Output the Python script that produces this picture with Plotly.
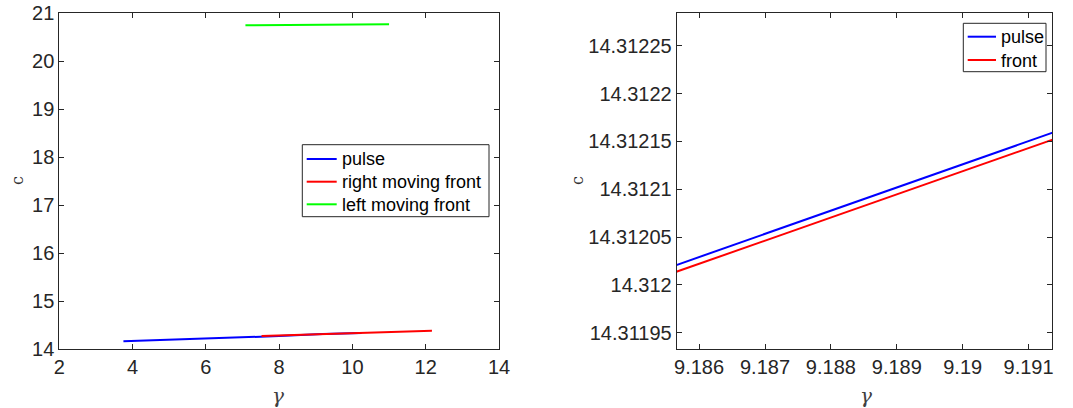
import plotly.graph_objects as go

# ---- data (left panel) ----
pulse_gamma = [3.75, 5.0, 6.5, 8.0, 9.19, 10.25]
pulse_c = [14.16, 14.19, 14.23, 14.27, 14.312, 14.335]
right_front_gamma = [7.52, 9.19, 10.5, 12.17]
right_front_c = [14.27, 14.312, 14.34, 14.378]
left_front_gamma = [7.08, 9.0, 11.0]
left_front_c = [20.75, 20.76, 20.77]

# ---- data (right panel, zoom) ----
zoom_gamma = [9.1855, 9.1880, 9.1915]
zoom_pulse_c = [14.3120170, 14.3120776, 14.3121625]
zoom_front_c = [14.3120100, 14.3120705, 14.3121552]

left_xticks = [2, 4, 6, 8, 10, 12, 14]
left_yticks = [14, 15, 16, 17, 18, 19, 20, 21]
right_xticks = [9.186, 9.187, 9.188, 9.189, 9.19, 9.191]
right_xticklabels = ["9.186", "9.187", "9.188", "9.189", "9.19", "9.191"]
right_yticks = [14.31195, 14.312, 14.31205, 14.3121, 14.31215, 14.3122, 14.31225]
right_yticklabels = ["14.31195", "14.312", "14.31205", "14.3121", "14.31215", "14.3122", "14.31225"]

left_legend_names = ["pulse", "right moving front", "left moving front"]
left_legend_colors = ["#0000FF", "#FF0000", "#00FF00"]
right_legend_names = ["pulse", "front"]
right_legend_colors = ["#0000FF", "#FF0000"]

W, H = 1073, 408
AX = "#262626"
FONT = "Liberation Sans, Arial, sans-serif"

fig = go.Figure()
fig.add_trace(go.Scatter(x=pulse_gamma, y=pulse_c, mode="lines", name=left_legend_names[0],
                         line=dict(color=left_legend_colors[0], width=2), xaxis="x", yaxis="y"))
fig.add_trace(go.Scatter(x=right_front_gamma, y=right_front_c, mode="lines", name=left_legend_names[1],
                         line=dict(color=left_legend_colors[1], width=2), xaxis="x", yaxis="y"))
fig.add_trace(go.Scatter(x=left_front_gamma, y=left_front_c, mode="lines", name=left_legend_names[2],
                         line=dict(color=left_legend_colors[2], width=2), xaxis="x", yaxis="y"))
fig.add_trace(go.Scatter(x=zoom_gamma, y=zoom_pulse_c, mode="lines", name=right_legend_names[0],
                         line=dict(color=right_legend_colors[0], width=2), xaxis="x2", yaxis="y2"))
fig.add_trace(go.Scatter(x=zoom_gamma, y=zoom_front_c, mode="lines", name=right_legend_names[1],
                         line=dict(color=right_legend_colors[1], width=2), xaxis="x2", yaxis="y2"))

common = dict(showgrid=False, zeroline=False, showline=True, linecolor=AX, linewidth=1,
              mirror="ticks", ticks="inside", ticklen=5, tickcolor=AX, tickwidth=1,
              automargin=False,
              tickfont=dict(family=FONT, size=20, color=AX))

ldom_x = [59.3 / W, 499 / W]
rdom_x = [676.7 / W, 1052.3 / W]
dom_y = [(H - 349) / H, (H - 13.3) / H]

fig.update_layout(
    width=W, height=H,
    margin=dict(l=0, r=0, t=0, b=0, pad=0, autoexpand=False),
    paper_bgcolor="white", plot_bgcolor="white",
    xaxis=dict(domain=ldom_x, range=[2, 14], tickvals=left_xticks, anchor="y", **common),
    yaxis=dict(domain=dom_y, range=[14, 21], tickvals=left_yticks, anchor="x", **common),
    xaxis2=dict(domain=rdom_x, range=[9.18566, 9.19136], tickvals=right_xticks,
                ticktext=right_xticklabels, anchor="y2", **common),
    yaxis2=dict(domain=dom_y, range=[14.311933, 14.312284], tickvals=right_yticks,
                ticktext=right_yticklabels, anchor="x2", **common),
    showlegend=False,
)


def px(x):
    return x / W


def py(y):
    return 1 - y / H


def draw_legend(box, sample_x, text_x, rows, names, colors):
    x0, x1, y0, y1 = box
    fig.add_shape(type="rect", xref="paper", yref="paper", x0=px(x0), x1=px(x1),
                  y0=py(y1), y1=py(y0), line=dict(color=AX, width=1),
                  fillcolor="white", layer="above")
    for yy, name, col in zip(rows, names, colors):
        fig.add_shape(type="line", xref="paper", yref="paper", x0=px(sample_x[0]), x1=px(sample_x[1]),
                      y0=py(yy), y1=py(yy), line=dict(color=col, width=2), layer="above")
        fig.add_annotation(x=px(text_x), y=py(yy + 0.5), xref="paper", yref="paper", text=name,
                           showarrow=False, xanchor="left", yanchor="middle",
                           font=dict(family=FONT, size=18, color="black"))


draw_legend((302.3, 489, 144.7, 216.7), (306.7, 336.7), 339.5, [159, 181.7, 204.3],
            left_legend_names, left_legend_colors)
draw_legend((963.3, 1046, 23.3, 71.7), (967.7, 996), 999, [36.7, 60],
            right_legend_names, right_legend_colors)

c_font = dict(family="DejaVu Serif, Liberation Serif, serif", size=16, color="#333333")
g_font = dict(family="DejaVu Serif, Liberation Serif, serif", size=20, color="#404040")
for (x, y, t, ang, f) in [(17, 181, "c", -90, c_font), (278, 396, "<i>γ</i>", 0, g_font),
                          (577, 181, "c", -90, c_font), (866, 396, "<i>γ</i>", 0, g_font)]:
    fig.add_annotation(x=x / W, y=1 - y / H, xref="paper", yref="paper", text=t,
                       showarrow=False, textangle=ang, font=f,
                       xanchor="center", yanchor="middle")

fig.write_html("out.html", config={"displayModeBar": False},
               post_script="document.body.style.margin='0';document.body.style.padding='0';")
